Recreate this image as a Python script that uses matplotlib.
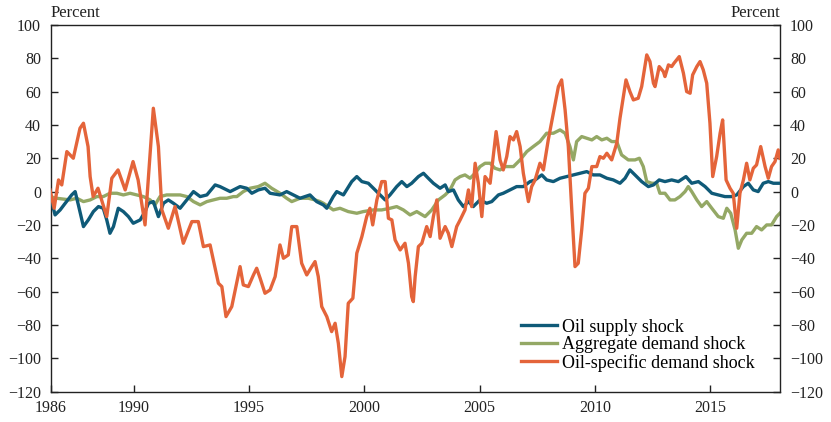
import numpy as np
import matplotlib
matplotlib.use("Agg")
import matplotlib.pyplot as plt

plt.rcParams["font.family"] = ["Liberation Serif", "DejaVu Serif"]
plt.rcParams["axes.unicode_minus"] = True

# oil supply shock (decimal year, percent)
supply_t = [1986.37, 1986.59, 1986.81, 1987.03, 1987.31, 1987.46, 1987.60, 1987.82, 1988.03, 1988.25,
            1988.47, 1988.68, 1988.83, 1988.97, 1989.12, 1989.33, 1989.55, 1989.77, 1989.98, 1990.28,
            1990.49, 1990.64, 1990.85, 1991.07, 1991.29, 1991.50, 1991.72, 1992.01, 1992.30, 1992.59,
            1992.88, 1993.17, 1993.53, 1993.74, 1994.18, 1994.61, 1994.90, 1995.12, 1995.40, 1995.69,
            1995.91, 1996.34, 1996.63, 1996.92, 1997.21, 1997.64, 1997.93, 1998.22, 1998.37, 1998.65,
            1998.80, 1999.09, 1999.45, 1999.67, 1999.89, 2000.17, 2000.39, 2000.68, 2000.90, 2001.11,
            2001.40, 2001.62, 2001.84, 2002.05, 2002.34, 2002.56, 2002.77, 2002.99, 2003.28, 2003.50,
            2003.64, 2003.86, 2004.07, 2004.29, 2004.51, 2004.72, 2005.01, 2005.30, 2005.52, 2005.81,
            2006.02, 2006.31, 2006.60, 2006.89, 2007.18, 2007.40, 2007.69, 2007.90, 2008.19, 2008.48,
            2008.77, 2009.06, 2009.35, 2009.64, 2009.92, 2010.21, 2010.51, 2010.79, 2011.08, 2011.30,
            2011.51, 2011.73, 2012.02, 2012.31, 2012.53, 2012.78, 2013.03, 2013.32, 2013.61, 2013.94,
            2014.19, 2014.48, 2014.77, 2015.06, 2015.34, 2015.63, 2015.92, 2016.14, 2016.43, 2016.64,
            2016.86, 2017.07, 2017.29, 2017.51, 2017.73, 2018.01]
supply_v = [-2, -14, -11, -7, -2, 0, -8, -21, -17, -12,
            -9, -10, -17, -25, -21, -10, -12, -15, -19, -17,
            -12, -7, -6, -15, -7, -5, -7, -10, -5, 0,
            -3, -2, 4, 3, 0, 3, 2, -1, 1, 2,
            -1, -2, 0, -2, -4, -2, -6, -8, -10, -3,
            0, -2, 6, 9, 6, 5, 2, -2, -5, -2,
            3, 6, 3, 5, 9, 11, 8, 5, 2, 4,
            0, 1, -5, -9, -6, -9, -5, -7, -6, -2,
            -1, 1, 3, 3, 6, 7, 10, 7, 6, 8,
            9, 10, 11, 12, 10, 10, 8, 7, 5, 8,
            13, 10, 6, 3, 4, 7, 6, 7, 6, 9,
            5, 6, 3, -1, -2, -3, -3, -2, 3, 5,
            1, 0, 5, 6, 5, 5]

# aggregate demand shock
aggr_t = [1986.37, 1986.66, 1987.24, 1987.53, 1987.82, 1988.11, 1988.40, 1988.68, 1988.97, 1989.27,
          1989.55, 1989.84, 1990.13, 1990.42, 1990.71, 1990.92, 1991.14, 1991.43, 1991.72, 1992.01,
          1992.30, 1992.59, 1992.88, 1993.17, 1993.45, 1993.74, 1994.03, 1994.32, 1994.47, 1994.75,
          1995.04, 1995.40, 1995.69, 1995.98, 1996.34, 1996.63, 1996.85, 1997.21, 1997.57, 1997.86,
          1998.08, 1998.22, 1998.44, 1998.65, 1998.94, 1999.30, 1999.67, 1999.95, 2000.39, 2000.75,
          2001.11, 2001.40, 2001.69, 2001.98, 2002.27, 2002.63, 2002.92, 2003.21, 2003.50, 2003.71,
          2003.93, 2004.15, 2004.36, 2004.58, 2004.80, 2005.01, 2005.23, 2005.45, 2005.66, 2005.88,
          2006.10, 2006.46, 2006.75, 2007.04, 2007.32, 2007.61, 2007.90, 2008.19, 2008.48, 2008.70,
          2008.91, 2009.06, 2009.20, 2009.42, 2009.64, 2009.86, 2010.07, 2010.29, 2010.51, 2010.72,
          2010.94, 2011.15, 2011.44, 2011.73, 2011.92, 2012.09, 2012.24, 2012.46, 2012.67, 2012.81,
          2013.03, 2013.25, 2013.46, 2013.68, 2013.90, 2014.04, 2014.19, 2014.41, 2014.62, 2014.84,
          2015.06, 2015.34, 2015.56, 2015.71, 2015.88, 2016.07, 2016.21, 2016.36, 2016.57, 2016.79,
          2017.00, 2017.22, 2017.44, 2017.65, 2017.87, 2018.01]
aggr_v = [-3, -4, -5, -4, -6, -5, -3, -3, -1, -1,
          -2, -1, -2, -3, -5, -8, -3, -2, -2, -2,
          -3, -6, -8, -6, -5, -4, -4, -3, -3, 0,
          2, 3, 5, 2, -1, -4, -6, -4, -4, -5,
          -6, -7, -9, -11, -10, -12, -13, -12, -11, -11,
          -10, -9, -11, -14, -12, -15, -11, -5, -2, 1,
          7, 9, 10, 8, 11, 15, 17, 17, 14, 13,
          15, 15, 19, 24, 27, 30, 35, 35, 37, 35,
          27, 19, 30, 33, 32, 31, 33, 31, 32, 30,
          30, 22, 19, 19, 20, 15, 6, 5, 5, -1,
          -1, -5, -5, -3, 0, 3, 0, -5, -9, -6,
          -10, -15, -16, -10, -13, -23, -34, -29, -25, -25,
          -21, -23, -20, -20, -15, -13]

# oil-specific demand shock
oilsp_t = [1986.37, 1986.55, 1986.74, 1986.88, 1987.10, 1987.38, 1987.67, 1987.82, 1988.02, 1988.11,
           1988.24, 1988.45, 1988.83, 1989.05, 1989.32, 1989.63, 1989.97, 1990.19, 1990.49, 1990.85,
           1991.07, 1991.22, 1991.50, 1991.79, 1992.15, 1992.52, 1992.80, 1993.02, 1993.31, 1993.67,
           1993.82, 1994.00, 1994.25, 1994.61, 1994.75, 1994.97, 1995.19, 1995.33, 1995.48, 1995.69,
           1995.91, 1996.13, 1996.34, 1996.49, 1996.70, 1996.85, 1997.07, 1997.28, 1997.50, 1997.72,
           1997.86, 1998.00, 1998.15, 1998.37, 1998.58, 1998.73, 1998.87, 1999.02, 1999.16, 1999.30,
           1999.50, 1999.67, 1999.89, 2000.10, 2000.24, 2000.36, 2000.54, 2000.75, 2000.90, 2001.04,
           2001.19, 2001.33, 2001.55, 2001.76, 2001.91, 2002.05, 2002.12, 2002.20, 2002.34, 2002.49,
           2002.70, 2002.85, 2002.99, 2003.14, 2003.28, 2003.50, 2003.64, 2003.79, 2004.00, 2004.15,
           2004.36, 2004.51, 2004.65, 2004.80, 2004.94, 2005.09, 2005.23, 2005.45, 2005.71, 2005.88,
           2006.02, 2006.17, 2006.31, 2006.46, 2006.60, 2006.75, 2006.89, 2007.11, 2007.25, 2007.40,
           2007.61, 2007.76, 2007.97, 2008.19, 2008.41, 2008.55, 2008.70, 2008.84, 2008.99, 2009.13,
           2009.27, 2009.42, 2009.56, 2009.71, 2009.86, 2010.07, 2010.21, 2010.36, 2010.51, 2010.72,
           2010.94, 2011.08, 2011.34, 2011.51, 2011.66, 2011.87, 2012.02, 2012.24, 2012.38, 2012.53,
           2012.60, 2012.78, 2012.96, 2013.03, 2013.18, 2013.32, 2013.42, 2013.65, 2013.83, 2013.97,
           2014.12, 2014.23, 2014.41, 2014.55, 2014.69, 2014.84, 2014.98, 2015.10, 2015.27, 2015.42,
           2015.53, 2015.68, 2015.85, 2015.99, 2016.14, 2016.28, 2016.43, 2016.57, 2016.71, 2016.86,
           2017.00, 2017.18, 2017.37, 2017.51, 2017.65, 2017.80, 2017.94, 2018.01]
oilsp_v = [1, -10, 7, 4, 24, 20, 38, 41, 27, 9,
           -3, 2, -15, 8, 13, 1, 18, 7, -20, 50,
           27, -11, -22, -9, -31, -18, -18, -33, -32, -55,
           -57, -75, -69, -45, -56, -57, -50, -46, -52, -61,
           -59, -51, -32, -40, -38, -21, -21, -43, -50, -45,
           -42, -51, -69, -75, -84, -79, -91, -111, -99, -67,
           -64, -37, -27, -15, -10, -20, -5, 6, 6, -16,
           -17, -29, -35, -31, -43, -63, -66, -51, -33, -31,
           -21, -27, -15, -5, -28, -21, -25, -33, -21, -17,
           -11, 1, -9, 17, 5, -15, 9, 5, 36, 19,
           13, 21, 33, 31, 36, 27, 11, -6, 3, 7,
           17, 13, 31, 47, 63, 67, 49, 27, -11, -45,
           -43, -23, -1, 2, 15, 15, 21, 20, 23, 19,
           29, 44, 67, 60, 55, 56, 63, 82, 78, 65,
           63, 75, 72, 69, 76, 75, 77, 81, 71, 60,
           59, 70, 75, 78, 73, 65, 41, 9, 21, 35,
           43, 7, 2, -1, -22, -1, 7, 17, 7, 14,
           16, 27, 15, 8, 15, 18, 25, 20]

series_names = ["Oil supply shock", "Aggregate demand shock", "Oil-specific demand shock"]
colors = ["#0f5a78", "#94a865", "#e4643a"]

fig = plt.figure(figsize=(8.31, 4.22), dpi=100)
ax = fig.add_axes([0.061, 0.072, 0.878, 0.869])

ax.plot(supply_t, supply_v, color=colors[0], lw=2.4, label=series_names[0], zorder=3)
ax.plot(aggr_t, aggr_v, color=colors[1], lw=2.4, label=series_names[1], zorder=2)
ax.plot(oilsp_t, oilsp_v, color=colors[2], lw=2.4, label=series_names[2], zorder=4)

x0, x1 = 1986.4, 2018.03
ax.set_xlim(x0, x1)
ax.set_ylim(-120, 100)
ax.set_xticks([x0, 1990, 1995, 2000, 2005, 2010, 2015])
ax.set_xticklabels(["1986", "1990", "1995", "2000", "2005", "2010", "2015"])
ax.set_yticks(np.arange(-120, 101, 20))
ax.tick_params(axis="both", direction="in", length=5, width=1, labelsize=11.5, colors="#222222")
ax.tick_params(axis="y", right=True, labelright=True, pad=7)
ax.tick_params(axis="x", pad=6)
for s in ax.spines.values():
    s.set_linewidth(1)
    s.set_color("#222222")

ax.text(0.0, 1.01, "Percent", transform=ax.transAxes, ha="left", va="bottom", fontsize=12, color="#222222")
ax.text(1.0, 1.01, "Percent", transform=ax.transAxes, ha="right", va="bottom", fontsize=12, color="#222222")

ax.legend(loc="lower right", bbox_to_anchor=(0.97, 0.045), frameon=False, fontsize=13,
          handlelength=2.0, handletextpad=0.3, labelspacing=0.03, borderpad=0.2,
          borderaxespad=0.0)

fig.savefig("out.png", dpi=100)
